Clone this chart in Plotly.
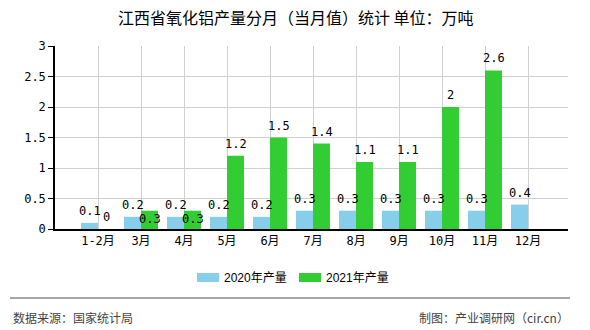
import plotly.graph_objects as go

categories = ["1-2月", "3月", "4月", "5月", "6月", "7月", "8月", "9月", "10月", "11月", "12月"]
values_2020 = [0.1, 0.2, 0.2, 0.2, 0.2, 0.3, 0.3, 0.3, 0.3, 0.3, 0.4]
values_2021 = [0, 0.3, 0.3, 1.2, 1.5, 1.4, 1.1, 1.1, 2.0, 2.6, None]
series_names = ["2020年产量", "2021年产量"]
colors = ["#87CEEB", "#32CD32"]
inside_green_labels = {"3月", "4月"}

title = "江西省氧化铝产量分月（当月值）统计 单位：万吨"
source_text = "数据来源：国家统计局"
credit_text = "制图：产业调研网（cir.cn）"

W, H = 590, 330
L, R, T, B = 55, 22, 46, 101
plot_w = W - L - R
plot_h = H - T - B

fig = go.Figure()
for name, vals, col in zip(series_names, [values_2020, values_2021], colors):
    fig.add_trace(go.Bar(x=categories, y=vals, name=name, marker=dict(color=col, line=dict(width=0)),
                         hoverinfo="x+y", showlegend=False))

num_font = dict(family="DejaVu Sans Mono, Noto Sans CJK SC", size=12, color="#000")
annotations = []
bar_off = 8.5
for cat, v in zip(categories, values_2020):
    if v is None:
        continue
    annotations.append(dict(x=cat, y=v, xref="x", yref="y", text=f"{v:g}", showarrow=False,
                            xshift=-bar_off, yshift=12, yanchor="middle", font=num_font))
for cat, v in zip(categories, values_2021):
    if v is None:
        continue
    ys = -8 if cat in inside_green_labels else 12
    annotations.append(dict(x=cat, y=v, xref="x", yref="y", text=f"{v:g}", showarrow=False,
                            xshift=bar_off, yshift=ys, yanchor="middle", font=num_font))

def px_x(p):
    return (p - L) / plot_w

def px_y(p):
    return (H - B - p) / plot_h

annotations.append(dict(x=px_x(296), y=px_y(17), xref="paper", yref="paper", text=title, showarrow=False,
                        xanchor="center", yanchor="middle",
                        font=dict(family="Noto Sans CJK SC", size=16, color="#000")))
annotations.append(dict(x=px_x(11), y=px_y(317), xref="paper", yref="paper", text=source_text, showarrow=False,
                        xanchor="left", yanchor="middle",
                        font=dict(family="Noto Sans CJK SC", size=12, color="#444")))
annotations.append(dict(x=px_x(571), y=px_y(317), xref="paper", yref="paper", text=credit_text, showarrow=False,
                        xanchor="right", yanchor="middle",
                        font=dict(family="Noto Sans CJK SC", size=12, color="#444")))

# custom legend (swatch rectangles + real text)
shapes = []
legend_x = [197, 299]
for name, col, lx in zip(series_names, colors, legend_x):
    shapes.append(dict(type="rect", xref="paper", yref="paper", x0=px_x(lx), x1=px_x(lx + 22),
                       y0=px_y(282), y1=px_y(273), fillcolor=col, line=dict(width=0)))
    annotations.append(dict(x=px_x(lx + 25), y=px_y(277.5), xref="paper", yref="paper", text=name,
                            showarrow=False, xanchor="left", yanchor="middle",
                            font=dict(family="Liberation Sans, Noto Sans CJK SC", size=12, color="#000")))

shapes.append(dict(type="line", xref="paper", yref="paper", x0=px_x(10), x1=px_x(570),
                   y0=px_y(298), y1=px_y(298), line=dict(color="#888", width=1.5)))

fig.update_layout(
    width=W, height=H,
    margin=dict(l=L, r=R, t=T, b=B, pad=0),
    paper_bgcolor="white", plot_bgcolor="white",
    barmode="group", bargap=0.21, bargroupgap=0,
    showlegend=False,
    annotations=annotations,
    shapes=shapes,
    xaxis=dict(type="category", range=[-1, 10.93], showgrid=True, gridcolor="#d0d0d0", gridwidth=1,
               showline=True, linecolor="#000", linewidth=1.5, ticks="",
               tickfont=dict(family="DejaVu Sans Mono, Noto Sans CJK SC", size=12, color="#000"),
               fixedrange=True),
    yaxis=dict(range=[0, 3], dtick=0.5, showgrid=True, gridcolor="#d0d0d0", gridwidth=1,
               showline=True, linecolor="#000", linewidth=1.5, ticks="outside", ticklen=5,
               tickcolor="#000", zeroline=False,
               tickfont=dict(family="DejaVu Sans Mono", size=12, color="#000"),
               fixedrange=True),
)

fig.write_html("out.html")
